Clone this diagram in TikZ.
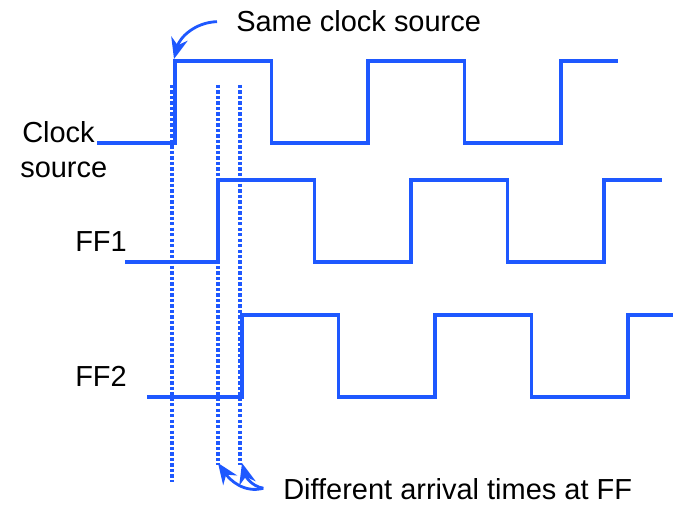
\documentclass[tikz,border=0pt]{standalone}
\usepackage{fontspec}
\setmainfont{Liberation Sans}
\usepackage{xcolor}
\definecolor{sigBlue}{HTML}{1E58FF}
\usepackage{tikz}
\usetikzlibrary{arrows.meta}

\tikzset{
  wave/.style={sigBlue, line width=2.8pt},
  tick/.style={sigBlue, line width=2.6pt, dash pattern=on 2.4pt off 1.5pt},
  lbl/.style={anchor=base west, inner sep=0pt, font=\fontsize{20.6}{25}\selectfont},
  pointer/.style={sigBlue, line width=2pt, -{Stealth[length=15pt, width=12pt]}}
}

\begin{document}
\begin{tikzpicture}[x=0.025cm, y=-0.025cm]
  \useasboundingbox (0,0) rectangle (673,505);
  % the three waveforms: start, first rising edge, low level, end
  \foreach \xs/\xr/\ylo/\xe in {97/175/143/618, 125/218/262/662, 147/242/397/673} {
    \draw[wave, line join=miter] (\xs,\ylo) -- (\xr,\ylo) -- ++(0,-82)
      -- ++(96.5,0) -- ++(0,82) -- ++(96.5,0) -- ++(0,-82)
      -- ++(96.5,0) -- ++(0,82) -- ++(96.5,0) -- ++(0,-82) -- (\xe,\ylo-82);
  }
  % dotted markers
  \draw[tick] (172,85) -- (172,482);
  \draw[tick] (218,85) -- (218,465);
  \draw[tick] (240,85) -- (240,465);
  % labels
  \node[lbl] (clklbl) at (22,143) {Clock};
  \node[lbl] (srclbl) at (20,178) {source};
  \node[lbl] (ffalbl) at (75,252) {FF1};
  \node[lbl] (ffblbl) at (75,387) {FF2};
  \node[lbl] (samelbl) at (236,32) {Same clock source};
  \node[lbl] (difflbl) at (283,500) {Different arrival times at FF};
  % arrows
  \coordinate (clkedge) at (174,59);
  \coordinate (ffaedge) at (218,463);
  \coordinate (ffbedge) at (242,463);
  \coordinate (samefoot) at ([xshift=-13.5pt]samelbl.west);
  \coordinate (difffoot) at ([xshift=-14pt, yshift=1pt]difflbl.west);
  \draw[pointer] (samefoot) to[out=182, in=75] (clkedge);
  \draw[pointer] (difffoot) to[out=195, in=-55] (ffaedge);
  \draw[pointer] (difffoot) to[out=170, in=-75] (ffbedge);
\end{tikzpicture}
\end{document}
